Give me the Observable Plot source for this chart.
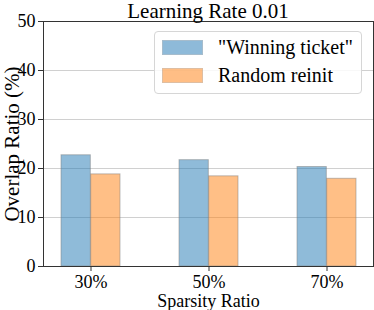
<!DOCTYPE html>
<html>
<head>
<meta charset="utf-8">
<script src="https://cdn.jsdelivr.net/npm/d3@7"></script>
<script src="https://cdn.jsdelivr.net/npm/@observablehq/plot@0.6"></script>
<style>
  html, body { margin: 0; padding: 0; background: #fff; }
  #wrap { position: relative; width: 374px; height: 310px; font-family: "Liberation Serif", "DejaVu Serif", serif; overflow: hidden; }
  #chart svg, #chart svg text { font-family: "Liberation Serif", "DejaVu Serif", serif !important; }
  #title { position: absolute; left: 43px; width: 330px; top: 3px; text-align: center; font-size: 21px; line-height: 17px; color: #000; }
  #legend { position: absolute; left: 154px; top: 31px; width: 208px; height: 63px; border: 1px solid #d6d6d6; border-radius: 4px; background: rgba(255,255,255,0.85); box-sizing: border-box; }
  .item { position: absolute; left: 7px; height: 16px; display: flex; align-items: center; font-size: 20px; line-height: 16px; color: #000; white-space: nowrap; }
  .sw { width: 41px; height: 15px; margin-right: 15px; box-sizing: border-box; border: 1px solid rgba(128,128,128,0.5); }
</style>
</head>
<body>
<div id="wrap">
  <div id="chart"></div>
  <div id="title"></div>
  <div id="legend"></div>
</div>
<script>
const categories = ["30%", "50%", "70%"];
const seriesNames = ["\"Winning ticket\"", "Random reinit"];
const winningTicket = [22.7, 21.7, 20.3];
const randomReinit = [18.8, 18.4, 17.9];
const yTicks = [0, 10, 20, 30, 40, 50];
const seriesColors = ["#1f77b4", "#ff7f0e"];
const titleText = "Learning Rate 0.01";
const xLabel = "Sparsity Ratio";
const yLabel = "Overlap Ratio (%)";

const data = [];
categories.forEach((c, i) => {
  data.push({cat: c, series: seriesNames[0], value: winningTicket[i]});
  data.push({cat: c, series: seriesNames[1], value: randomReinit[i]});
});

const W = 374, H = 310, mL = 43, mR = 1, mT = 21, mB = 44;
const padIn = 0.5, padOut = 0.14;
const step = (W - mL - mR) / (categories.length - padIn + 2 * padOut);
const half = step * (1 - padIn) / 2;

const barStyle = {strokeOpacity: 0.5, stroke: "gray", strokeWidth: 1, fillOpacity: 0.5};
const serif = "Liberation Serif, serif";

const chart = Plot.plot({
  width: W, height: H,
  marginLeft: mL, marginRight: mR, marginTop: mT, marginBottom: mB,
  style: "font-family: 'Liberation Serif', serif; font-size: 17px; color: #000; background: #fff; overflow: visible;",
  x: {domain: categories, paddingInner: padIn, paddingOuter: padOut, label: null},
  y: {domain: [0, 50], ticks: yTicks, label: null},
  color: {domain: seriesNames, range: seriesColors},
  marks: [
    Plot.gridY(yTicks.slice(1, -1), {stroke: "#b0b0b0", strokeOpacity: 0.6, strokeWidth: 1}),
    Plot.barY(data.filter(d => d.series === seriesNames[0]), {x: "cat", y: "value", fill: "series", insetRight: half, ...barStyle}),
    Plot.barY(data.filter(d => d.series === seriesNames[1]), {x: "cat", y: "value", fill: "series", insetLeft: half, ...barStyle}),
    Plot.frame({stroke: "#333", strokeWidth: 1}),
    Plot.axisY(yTicks, {tickSize: 5, tickPadding: 3, fontSize: 18, fontFamily: serif, stroke: "#333", fill: "#000", label: null}),
    Plot.axisX({tickSize: 5, tickPadding: 4, fontSize: 18, fontFamily: serif, stroke: "#333", fill: "#000", label: null}),
    Plot.text([xLabel], {frameAnchor: "bottom", lineAnchor: "middle", dy: 35, fontSize: 18, fontFamily: serif, fill: "#000"}),
    Plot.text([yLabel], {frameAnchor: "left", textAnchor: "middle", lineAnchor: "middle", dx: -31, rotate: -90, fontSize: 21, fontFamily: serif, fill: "#000"})
  ]
});
d3.select(chart).selectAll("text").attr("font-family", serif);
document.getElementById("chart").appendChild(chart);
document.getElementById("title").textContent = titleText;

const legend = document.getElementById("legend");
seriesNames.forEach((name, i) => {
  const item = document.createElement("div");
  item.className = "item";
  item.style.top = (7 + i * 28) + "px";
  const sw = document.createElement("span");
  sw.className = "sw";
  sw.style.background = seriesColors[i];
  sw.style.opacity = 0.5;
  const t = document.createElement("span");
  t.textContent = name;
  item.appendChild(sw);
  item.appendChild(t);
  legend.appendChild(item);
});
</script>
</body>
</html>
